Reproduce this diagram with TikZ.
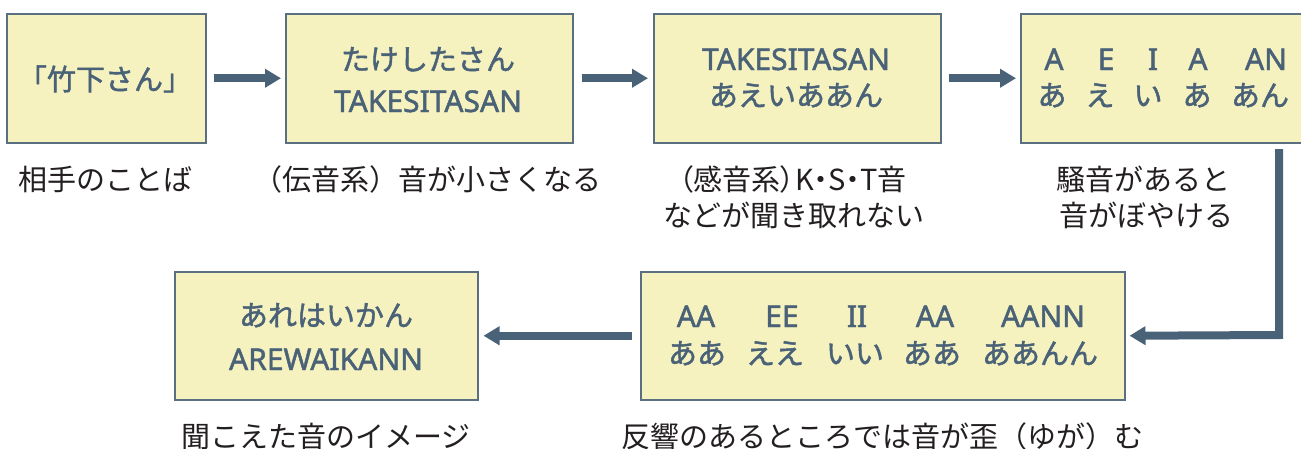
\documentclass[tikz,border=0pt]{standalone}
\usepackage{fontspec}
\setmainfont{Noto Sans CJK JP}
\newfontfamily\jpm{Noto Sans CJK JP}[FakeBold=1.6]
\newfontfamily\jpp{Noto Sans CJK JP}[RawFeature=+palt]
\newfontfamily\lat{Noto Sans}[FakeBold=1.6]
\usetikzlibrary{arrows.meta}
\definecolor{boxfill}{HTML}{F6F2BF}
\definecolor{boxline}{HTML}{5A6F80}
\definecolor{slate}{HTML}{4A6278}
\definecolor{ink}{HTML}{231F20}
\tikzset{
  box/.style={draw=boxline, line width=1.5pt, fill=boxfill, inner sep=0pt, anchor=north west},
  jb/.style={anchor=base, inner sep=0pt, text=slate, font=\jpm\fontsize{29}{34}\selectfont},
  lb/.style={anchor=base, inner sep=0pt, text=slate, font=\lat\fontsize{30}{34}\selectfont},
  lab/.style={anchor=base, inner sep=0pt, text=ink, font=\fontsize{29}{34}\selectfont},
  arr/.style={draw=slate, line width=8pt, -{Triangle[length=16pt,width=18pt]}}
}
\begin{document}
\begin{tikzpicture}[x=1pt,y=-1pt]
\useasboundingbox (0,0) rectangle (1301,448);
% boxes
\node[box, minimum width=199pt, minimum height=129pt] (b1) at (6,13) {};
\node[box, minimum width=287pt, minimum height=129pt] (b2) at (285,13) {};
\node[box, minimum width=287pt, minimum height=129pt] (b3) at (653,13) {};
\node[box, minimum width=284pt, minimum height=129pt] (b4) at (1020,13) {};
\node[box, minimum width=303pt, minimum height=128pt] (b5) at (174,271) {};
\node[box, minimum width=484pt, minimum height=128pt] (b6) at (640,271) {};
% box texts
\node[jb] (t1) at (105,90) {「竹下さん」};
\node[jb] (t2a) at (428,70) {たけしたさん};
\node[lb] (t2b) at (428,112) {TAKESITASAN};
\node[lb] (t3a) at (796,70) {TAKESITASAN};
\node[jb] (t3b) at (796,106) {あえいああん};
\node[lb] (t4a1) at (1054,70) {A};
\node[lb] (t4a2) at (1106,70) {E};
\node[lb] (t4a3) at (1153,70) {I};
\node[lb] (t4a4) at (1198,70) {A};
\node[lb] (t4a5) at (1266,70) {AN};
\node[jb] (t4b1) at (1052,106) {あ};
\node[jb] (t4b2) at (1100,106) {え};
\node[jb] (t4b3) at (1148,106) {い};
\node[jb] (t4b4) at (1197,106) {あ};
\node[jb] (t4b5) at (1260,106) {あん};
\node[jb] (t5a) at (326,326) {あれはいかん};
\node[lb] (t5b) at (326,370) {AREWAIKANN};
\node[lb] (t6a1) at (696,327) {AA};
\node[lb] (t6a2) at (782,327) {EE};
\node[lb] (t6a3) at (857,327) {II};
\node[lb] (t6a4) at (935,327) {AA};
\node[lb] (t6a5) at (1043,327) {AANN};
\node[jb] (t6b1) at (697,364) {ああ};
\node[jb] (t6b2) at (775,364) {ええ};
\node[jb] (t6b3) at (855,364) {いい};
\node[jb] (t6b4) at (932,364) {ああ};
\node[jb] (t6b5) at (1040,364) {ああんん};
% labels
\node[lab] (l1) at (105,190) {相手のことば};
\node[lab] (l2) at (427,190) {（伝音系）音が小さくなる};
\node[lab, font=\jpp\fontsize{29}{34}\selectfont] (l3a) at (793,190) {（感音系）K・S・T音};
\node[lab] (l3b) at (794,226) {などが聞き取れない};
\node[lab] (l4a) at (1143,190) {騒音があると};
\node[lab] (l4b) at (1146,226) {音がぼやける};
\node[lab] (l5) at (326,447) {聞こえた音のイメージ};
\node[lab] (l6) at (882,447) {反響のあるところでは音が歪（ゆが）む};
% connectors
\draw[arr, shorten <=7pt, shorten >=4pt] (b1.east) -- (b2.west);
\draw[arr, shorten <=8pt, shorten >=5pt] (b2.east) -- (b3.west);
\draw[arr, shorten <=7pt, shorten >=4pt] (b3.east) -- (b4.west);
\coordinate (turn) at (1279,335);
\coordinate (drop) at (1279,149);
\draw[arr, shorten >=4pt] (drop) -- (turn) -- (b6.east);
\draw[arr, shorten <=8pt, shorten >=5pt] (b6.west) -- (b5.east);
\end{tikzpicture}
\end{document}
